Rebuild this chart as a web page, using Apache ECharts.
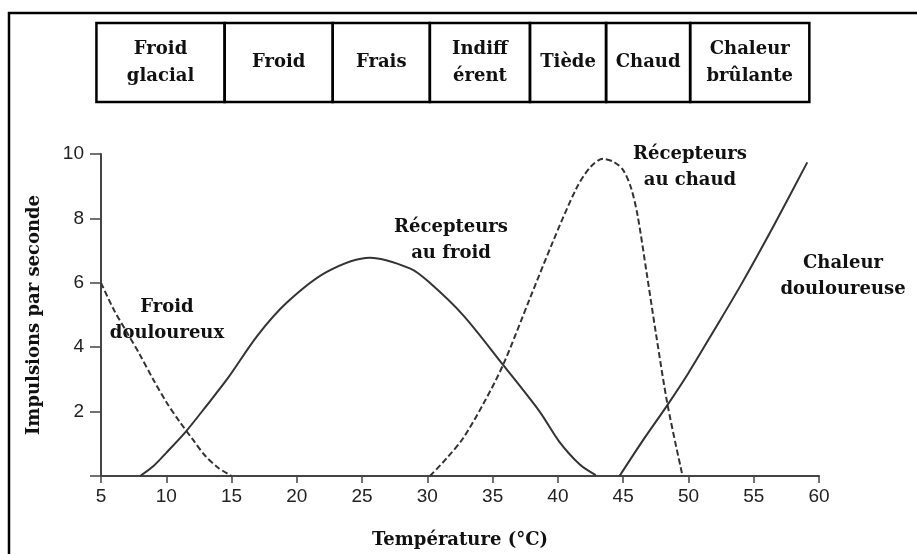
<!DOCTYPE html>
<html><head><meta charset="utf-8">
<script src="https://cdn.jsdelivr.net/npm/echarts@6/dist/echarts.min.js"></script>
<style>html,body{margin:0;padding:0;background:#fff}#c{width:917px;height:554px}</style>
</head><body><div id="c"></div>
<script>
// ---- data ----
const froidDouloureux = [[5,6],[6,5.15],[7,4.45],[8,3.75],[9,3.0],[10,2.3],[11,1.7],[12,1.15],[13,0.62],[14,0.25],[15,0]];
const recepteursFroid = [[8,0],[9,0.3],[10,0.72],[11.5,1.38],[13,2.14],[14.7,3.03],[17,4.37],[19.3,5.41],[22.3,6.34],[25.6,6.78],[28.7,6.44],[30.1,6.03],[32.75,4.99],[35.8,3.45],[38.6,2.0],[40.1,1.07],[41.7,0.35],[42.9,0.03]];
const recepteursChaud = [[30.2,0],[31.5,0.56],[32.75,1.18],[34.3,2.25],[35.8,3.45],[37.85,5.51],[39.6,7.26],[41.4,8.92],[42.5,9.6],[43.45,9.85],[44.3,9.75],[45,9.5],[45.6,8.95],[46.1,8.1],[46.8,6.3],[47.5,4.45],[48.4,2.21],[49.55,0]];
const chaleurDouloureuse = [[44.72,0],[46.5,1.1],[48.4,2.21],[50,3.2],[52,4.55],[54,5.92],[56.5,7.75],[59.1,9.74]];
const zoneLabels = ['Froid\nglacial','Froid','Frais','Indiff\nérent','Tiède','Chaud','Chaleur\nbrûlante'];
const zoneEdges = [4.65, 14.47, 22.75, 30.19, 37.86, 43.69, 50.13, 59.26];
const xMin = 5, xMax = 60, xStep = 5;
const yMin = 0, yMax = 10, yStep = 2;
const annotations = [
  {text:'Froid\ndouloureux', x:167, y:320},
  {text:'Récepteurs\nau froid', x:451, y:240},
  {text:'Récepteurs\nau chaud', x:690, y:167},
  {text:'Chaleur\ndouloureuse', x:843, y:276}
];

const LINE = '#333';
const SERIF = '"DejaVu Serif", serif';
const chart = echarts.init(document.getElementById('c'), null, {renderer:'canvas'});

function lineSeries(data, dashed){
  return {type:'line', data, smooth:0.3, symbol:'none', silent:true,
    lineStyle:{color:LINE, width:2, type: dashed ? [6,3] : 'solid'}};
}

chart.setOption({
  animation:false,
  backgroundColor:'#fff',
  grid:{left:101, right:98, top:154, bottom:77},
  xAxis:{type:'value', min:xMin, max:xMax, interval:xStep,
    name:'Température (°C)', nameLocation:'middle', nameGap:55,
    nameTextStyle:{fontFamily:SERIF, fontWeight:'bold', fontSize:18, color:'#111'},
    axisLine:{show:true, onZero:false, lineStyle:{color:'#444', width:2}},
    axisTick:{show:true, length:7, lineStyle:{color:'#444', width:1.5}},
    axisLabel:{margin:11, fontFamily:'"Liberation Sans", sans-serif', fontSize:19, color:'#222'},
    splitLine:{show:false}},
  yAxis:{type:'value', min:yMin, max:yMax, interval:yStep,
    name:'Impulsions par seconde', nameLocation:'middle', nameGap:58,
    nameTextStyle:{fontFamily:SERIF, fontWeight:'bold', fontSize:18, color:'#111'},
    axisLine:{show:true, lineStyle:{color:'#444', width:2}},
    axisTick:{show:true, length:11, lineStyle:{color:'#444', width:1.5}},
    axisLabel:{margin:17, fontFamily:'"Liberation Sans", sans-serif', fontSize:19, color:'#222',
      formatter:v => v === 0 ? '' : String(v)},
    splitLine:{show:false}},
  series:[
    lineSeries(froidDouloureux, true),
    lineSeries(recepteursFroid, false),
    lineSeries(recepteursChaud, true),
    lineSeries(chaleurDouloureuse, false)
  ]
});

const gfx = [];
gfx.push({type:'rect', shape:{x:9, y:13, width:940, height:600}, style:{fill:null, stroke:'#000', lineWidth:2.5}, silent:true});
const boxTop = 23, boxBottom = 102;
const px = zoneEdges.map(v => chart.convertToPixel({gridIndex:0}, [v, 0])[0]);
for (let i = 0; i < zoneLabels.length; i++) {
  gfx.push({type:'rect', shape:{x:px[i], y:boxTop, width:px[i+1]-px[i], height:boxBottom-boxTop},
    style:{fill:null, stroke:'#000', lineWidth:2.5}, silent:true});
  gfx.push({type:'text', silent:true, style:{text:zoneLabels[i], x:(px[i]+px[i+1])/2, y:(boxTop+boxBottom)/2,
    font:'bold 18px ' + SERIF, fill:'#111', align:'center', verticalAlign:'middle', lineHeight:27}});
}
annotations.forEach(a => gfx.push({type:'text', silent:true, style:{text:a.text, x:a.x, y:a.y,
  font:'bold 18px ' + SERIF, fill:'#111', align:'center', verticalAlign:'middle', lineHeight:26}}));
chart.setOption({graphic:gfx});
</script></body></html>
